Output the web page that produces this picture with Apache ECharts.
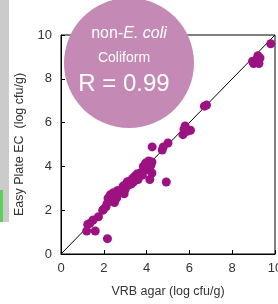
<!DOCTYPE html>
<html>
<head>
<meta charset="utf-8">
<script src="https://cdn.jsdelivr.net/npm/echarts@6/dist/echarts.min.js"></script>
<style>
  html, body { margin: 0; padding: 0; background: #fff; }
  #chart { width: 278px; height: 304px; }
</style>
</head>
<body>
<div id="chart"></div>
<script>
// VRB agar (x) vs Easy Plate EC (y), log cfu/g
const vrbValues = [
  9.8, 9.0, 9.2, 9.3, 8.95, 9.15, 9.25,
  6.7, 6.8,
  5.8, 6.05, 5.7, 5.9, 5.75,
  4.26, 4.78, 5.0, 4.73, 4.92,
  4.25, 4.1, 4.0, 3.85, 4.2, 4.25, 4.15, 4.05, 3.9, 3.8, 3.7, 3.6, 3.55, 3.45, 3.4, 3.35,
  3.25, 3.1, 3.15, 3.05, 3.0, 2.9, 2.85, 2.75, 2.65, 2.55, 2.5, 2.45, 2.3, 2.2, 2.15, 2.1,
  2.0, 1.95, 1.75, 1.5, 1.35, 1.25, 1.2, 1.6, 2.17,
  3.6, 3.8, 3.95, 4.1, 3.3, 2.95, 2.6, 2.4
];
const easyPlateValues = [
  9.6, 8.7, 9.05, 8.95, 8.8, 8.85, 8.7,
  6.75, 6.8,
  5.85, 5.65, 5.45, 5.6, 5.7,
  4.89, 4.89, 5.07, 4.75, 3.29,
  4.2, 4.25, 4.1, 4.0, 4.05, 3.7, 3.4, 3.85, 3.9, 3.75, 3.7, 3.5, 3.65, 3.55, 3.3, 3.45,
  3.35, 3.3, 3.15, 3.2, 2.95, 3.1, 2.85, 2.8, 2.9, 2.7, 2.35, 2.8, 2.7, 2.55, 2.3, 2.15,
  2.05, 2.0, 1.7, 1.55, 1.4, 1.35, 1.05, 1.05, 0.7,
  3.4, 3.6, 4.15, 3.95, 3.2, 2.75, 2.55, 2.45
];
const identityLine = [[0, 0], [10, 10]];
const axisTicks = [0, 2, 4, 6, 8, 10];

const points = vrbValues.map((x, i) => [x, easyPlateValues[i]]);

const font = 'Liberation Sans, Arial, sans-serif';
const chart = echarts.init(document.getElementById('chart'));

const axisCommon = {
  type: 'value',
  min: axisTicks[0],
  max: axisTicks[axisTicks.length - 1],
  interval: 2,
  axisLine: { lineStyle: { color: '#000', width: 1 } },
  axisTick: { inside: true, length: 4, lineStyle: { color: '#000' } },
  splitLine: { show: false },
  nameLocation: 'middle',
  nameTextStyle: { color: '#333', fontSize: 12.5, fontFamily: font }
};

chart.setOption({
  animation: false,
  backgroundColor: '#fff',
  grid: {
    left: 61, right: 3, top: 35, bottom: 50,
    containLabel: false, outerBoundsMode: 'none',
    show: true, borderColor: '#000', borderWidth: 1
  },
  xAxis: Object.assign({}, axisCommon, {
    name: 'VRB agar (log cfu/g)',
    nameGap: 31,
    axisLabel: { color: '#333', fontSize: 13, fontFamily: font, margin: 8 }
  }),
  yAxis: Object.assign({}, axisCommon, {
    name: 'Easy Plate EC  (log cfu/g)',
    nameGap: 35,
    axisLabel: { color: '#333', fontSize: 13, fontFamily: font, margin: 9 }
  }),
  series: [
    {
      type: 'line',
      data: identityLine,
      showSymbol: false,
      lineStyle: { color: '#000', width: 1 },
      z: 1
    },
    {
      type: 'scatter',
      data: points,
      symbolSize: 9,
      itemStyle: { color: '#9c1281', opacity: 1 },
      z: 2
    }
  ],
  graphic: [
    // scrap of window chrome at the left edge
    { type: 'rect', shape: { x: 0, y: 0, width: 9, height: 222 }, style: { fill: '#cbcbcb' } },
    { type: 'rect', shape: { x: 0, y: 190, width: 3, height: 32 }, style: { fill: '#5ad25a' } },
    { type: 'circle', shape: { cx: 129, cy: 63, r: 65 }, style: { fill: '#c48ab5' }, z: 10 },
    {
      type: 'text', x: 129, y: 34, z: 11,
      style: {
        text: '{a|non-}{b|E. coli}',
        align: 'center', verticalAlign: 'middle',
        rich: {
          a: { fill: '#fff', fontSize: 16, fontFamily: font },
          b: { fill: '#fff', fontSize: 16, fontFamily: font, fontStyle: 'italic' }
        }
      }
    },
    {
      type: 'text', x: 124, y: 58, z: 11,
      style: { text: 'Coliform', fill: '#fff', fontSize: 14, fontFamily: font, align: 'center', verticalAlign: 'middle' }
    },
    {
      type: 'text', x: 124, y: 84, z: 11,
      style: { text: 'R = 0.99', fill: '#fff', fontSize: 24, fontFamily: font, align: 'center', verticalAlign: 'middle' }
    }
  ]
});
</script>
</body>
</html>
